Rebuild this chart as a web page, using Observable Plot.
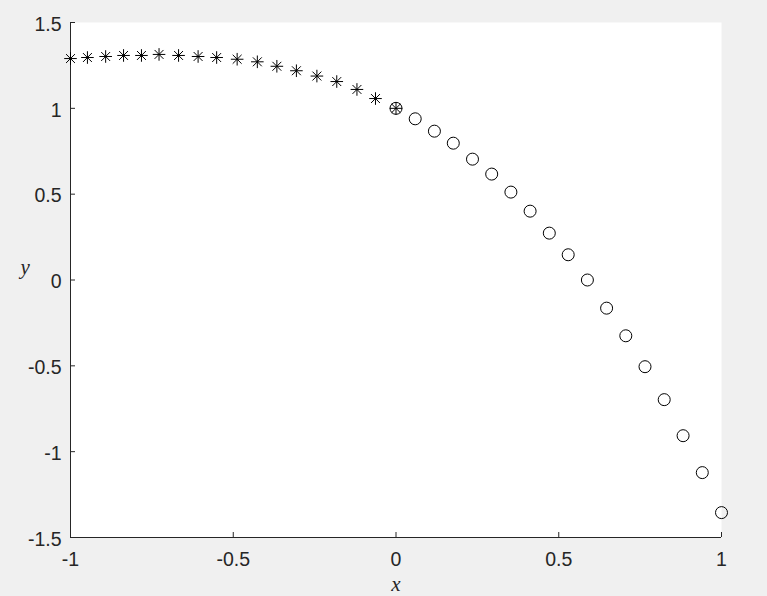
<!DOCTYPE html>
<html><head><meta charset="utf-8">
<script src="https://cdn.jsdelivr.net/npm/d3@7"></script>
<script src="https://cdn.jsdelivr.net/npm/@observablehq/plot@0.6"></script>
<style>
html,body{margin:0;padding:0;background:#f0f0f0;}
#chart svg{display:block;}
</style></head><body><div id="chart"></div>
<script>
const starX = [-1, -0.948, -0.892, -0.837, -0.782, -0.728, -0.668, -0.608, -0.551, -0.488, -0.426, -0.366, -0.306, -0.243, -0.182, -0.120, -0.063, 0];
const starY = [1.290, 1.296, 1.302, 1.308, 1.308, 1.314, 1.308, 1.302, 1.296, 1.286, 1.271, 1.245, 1.219, 1.188, 1.156, 1.110, 1.057, 1.0];
const circleX = [0, 0.059, 0.118, 0.176, 0.235, 0.294, 0.353, 0.412, 0.471, 0.529, 0.588, 0.647, 0.706, 0.765, 0.824, 0.882, 0.941, 1];
const circleY = [1.0, 0.939, 0.867, 0.797, 0.704, 0.617, 0.512, 0.401, 0.273, 0.147, 0.0, -0.164, -0.325, -0.505, -0.697, -0.907, -1.122, -1.355];
const xTicks = [-1, -0.5, 0, 0.5, 1];
const xTickLabels = ["-1", "-0.5", "0", "0.5", "1"];
const yTicks = [-1.5, -1, -0.5, 0, 0.5, 1, 1.5];
const yTickLabels = ["-1.5", "-1", "-0.5", "0", "0.5", "1", "1.5"];
const xLabel = "x";
const yLabel = "y";

const stars = starX.map((x, i) => ({x, y: starY[i]}));
const circles = circleX.map((x, i) => ({x, y: circleY[i]}));

const star8 = {
  draw(ctx, size) {
    const r = Math.sqrt(size / Math.PI);
    const d = r * Math.SQRT1_2;
    ctx.moveTo(-r, 0); ctx.lineTo(r, 0);
    ctx.moveTo(0, -r); ctx.lineTo(0, r);
    ctx.moveTo(-d, -d); ctx.lineTo(d, d);
    ctx.moveTo(-d, d); ctx.lineTo(d, -d);
  }
};

const ink = "#262626";
const tickFont = "Liberation Sans, Arial, sans-serif";
const labelFont = "Liberation Serif, Times New Roman, serif";

const chart = Plot.plot({
  width: 767,
  height: 596,
  marginLeft: 70,
  marginRight: 46,
  marginTop: 22,
  marginBottom: 59,
  style: {background: "#f0f0f0", fontFamily: tickFont, color: ink},
  x: {domain: [-1, 1]},
  y: {domain: [-1.5, 1.5]},
  marks: [
    Plot.frame({fill: "white"}),
    Plot.ruleX([-1], {stroke: ink, strokeWidth: 1}),
    Plot.ruleY([-1.5], {stroke: ink, strokeWidth: 1}),
    // inward ticks
    Plot.axisX(xTicks, {tickSize: -5, tickFormat: () => "", label: null, stroke: ink}),
    Plot.axisY(yTicks, {tickSize: -5, tickFormat: () => "", label: null, stroke: ink}),
    // tick labels
    Plot.axisX(xTicks, {tickSize: 0, tickPadding: 15, fontSize: 19.5, tickFormat: (d) => xTickLabels[xTicks.indexOf(d)], label: null, fill: ink}),
    Plot.axisY(yTicks, {tickSize: 0, tickPadding: 9, dy: 2, fontSize: 19.5, tickFormat: (d) => yTickLabels[yTicks.indexOf(d)], label: null, fill: ink}),
    Plot.dot(stars, {x: "x", y: "y", symbol: star8, r: 6.3, stroke: "black", fill: "none", strokeWidth: 1}),
    Plot.dot(circles, {x: "x", y: "y", symbol: "circle", r: 6, stroke: "black", fill: "none", strokeWidth: 1}),
    Plot.text([xLabel], {frameAnchor: "bottom", dy: 53, text: d => d, fontSize: 21, fontStyle: "italic", fontFamily: labelFont, fill: ink}),
    Plot.text([yLabel], {frameAnchor: "left", dx: -50, dy: -13, text: d => d, fontSize: 21, fontStyle: "italic", fontFamily: labelFont, fill: ink})
  ]
});
document.getElementById("chart").appendChild(chart);
</script>
</body></html>
